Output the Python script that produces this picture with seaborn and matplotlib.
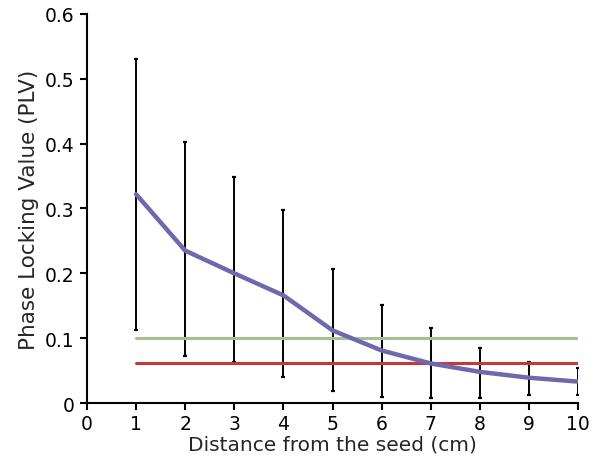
import matplotlib
matplotlib.use("Agg")
import matplotlib.pyplot as plt
import numpy as np
import pandas as pd
import seaborn as sns

# data
distance = [1, 2, 3, 4, 5, 6, 7, 8, 9, 10]
plv_mean = [0.322, 0.235, 0.200, 0.166, 0.112, 0.081, 0.061, 0.048, 0.039, 0.033]
plv_upper = [0.530, 0.403, 0.348, 0.297, 0.206, 0.151, 0.115, 0.085, 0.064, 0.054]
plv_lower = [0.112, 0.072, 0.063, 0.040, 0.018, 0.010, 0.007, 0.007, 0.013, 0.013]
threshold_green = 0.100
threshold_red = 0.062

df = pd.DataFrame({"distance": distance, "plv": plv_mean})

sns.set_style("ticks")
plt.rcParams["font.family"] = ["DejaVu Sans"]

fig = plt.figure(figsize=(5.98, 4.64), dpi=100)
ax = fig.add_axes([0.1455, 0.1293, 0.8211, 0.8384])

# error bars
mean = np.array(plv_mean)
yerr = [mean - np.array(plv_lower), np.array(plv_upper) - mean]
ax.errorbar(distance, plv_mean, yerr=yerr, fmt="none", ecolor="black",
            elinewidth=1.4, capsize=1.6, capthick=1.6, zorder=2)

# threshold lines
ax.plot([distance[0], distance[-1]], [threshold_green] * 2, color="#a3c28f", lw=2.2, zorder=3)
ax.plot([distance[0], distance[-1]], [threshold_red] * 2, color="#c23a33", lw=2.2, zorder=3)

sns.lineplot(data=df, x="distance", y="plv", ax=ax, color="#6e69ad", lw=3.2, zorder=4)

ax.set_xlim(0, 10)
ax.set_ylim(0, 0.6)
ax.set_xticks(range(0, 11))
ax.set_xticklabels([str(i) for i in range(0, 11)])
ax.set_yticks([0, 0.1, 0.2, 0.3, 0.4, 0.5, 0.6])
ax.set_yticklabels(["0", "0.1", "0.2", "0.3", "0.4", "0.5", "0.6"])

sns.despine(ax=ax)
for s in ["left", "bottom"]:
    ax.spines[s].set_linewidth(1.5)
    ax.spines[s].set_color("black")
    ax.spines[s].set_clip_on(False)
ax.tick_params(axis="both", direction="out", length=5, width=1.5, colors="black",
               labelsize=13.5, pad=4)
ax.tick_params(axis="x", pad=3)

ax.set_xlabel("Distance from the seed (cm)", fontsize=14.5, labelpad=1)
ax.set_ylabel("Phase Locking Value (PLV)", fontsize=15.5, labelpad=4)

fig.savefig("out.png", dpi=100)
